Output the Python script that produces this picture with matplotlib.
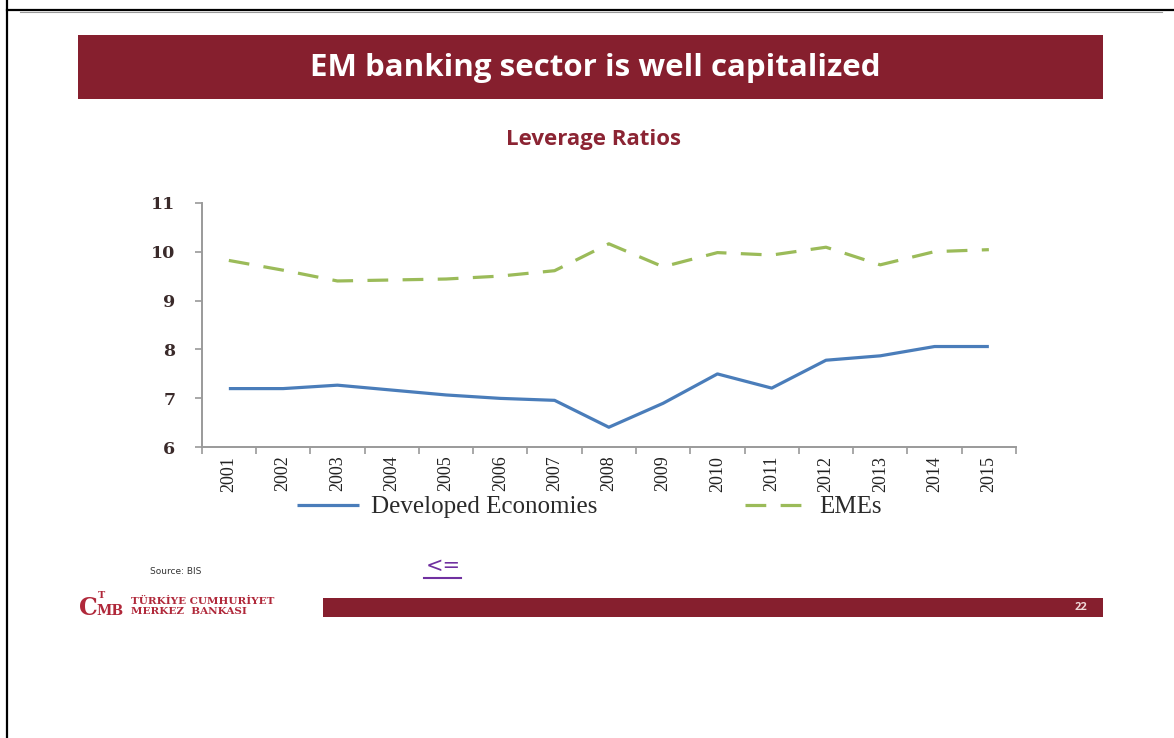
import matplotlib
matplotlib.use("Agg")
import matplotlib.pyplot as plt
from matplotlib.patches import Rectangle
from matplotlib.lines import Line2D

# ---------------- data ----------------
years = ["2001", "2002", "2003", "2004", "2005", "2006", "2007", "2008",
         "2009", "2010", "2011", "2012", "2013", "2014", "2015"]
developed = [7.20, 7.20, 7.27, 7.17, 7.07, 7.00, 6.96, 6.41,
             6.90, 7.50, 7.21, 7.78, 7.87, 8.06, 8.06]
emes = [9.82, 9.62, 9.40, 9.42, 9.44, 9.50, 9.61, 10.16,
        9.69, 9.98, 9.93, 10.09, 9.73, 10.00, 10.04]
yticks = [6, 7, 8, 9, 10, 11]

title = "EM banking sector is well capitalized"
subtitle = "Leverage Ratios"
series_names = ["Developed Economies", "EMEs"]

W, H = 1174, 738
fig = plt.figure(figsize=(W / 100, H / 100), dpi=100)
fig.patch.set_facecolor("white")

def fx(x):
    return x / W

def fy(y):
    return 1 - y / H

RED = "#861F2E"
BLUE = "#4A7DBA"
GREEN = "#9BBB59"
LOGO = "#B0283A"

# page border lines
fig.add_artist(Line2D([fx(7), fx(7)], [0, 1], color="black", lw=1.6,
                      transform=fig.transFigure))
fig.add_artist(Line2D([fx(7), 1], [fy(10), fy(10)], color="black", lw=1.6,
                      transform=fig.transFigure))
fig.add_artist(Line2D([fx(20), fx(1162)], [fy(12), fy(12)], color="#9a9a9a", lw=0.8,
                      transform=fig.transFigure))

# title bar
fig.add_artist(Rectangle((fx(78), fy(99)), fx(1103) - fx(78), fy(35) - fy(99),
                         transform=fig.transFigure, color=RED, lw=0))
fig.text(fx(595), fy(68), title, color="white", fontsize=22.5, fontweight="bold",
         family="Open Sans", ha="center", va="center")
fig.text(fx(594), fy(139), subtitle, color="#8B2433", fontsize=16, fontweight="bold",
         family="Open Sans", ha="center", va="center")

# axes
left, right, top, bottom = 201.7, 1016, 202.7, 447.3
ax = fig.add_axes([fx(left), fy(bottom), fx(right) - fx(left), fy(top) - fy(bottom)])
x = list(range(len(years)))
l1, = ax.plot(x, developed, color=BLUE, lw=2.3, solid_capstyle="butt")
l2, = ax.plot(x, emes, color=GREEN, lw=2.3, dashes=(6.5, 4.5), dash_capstyle="butt")
ax.set_xlim(-0.5, len(years) - 0.5)
ax.set_ylim(6, 11)
ax.set_yticks(yticks)
ax.set_yticklabels([str(v) for v in yticks], family="DejaVu Serif",
                   fontweight="bold", fontsize=12.5, color="#3a2a2a")
ax.set_xticks(x)
ax.set_xticklabels(years, rotation=90, family="Liberation Serif", fontsize=13,
                   color="#222222")
ax.set_xticks([i - 0.5 for i in range(len(years) + 1)], minor=True)
ax.tick_params(axis="x", which="major", length=0, pad=6)
ax.tick_params(axis="x", which="minor", length=5, width=1.2, color="#9a9a9a", direction="out")
ax.tick_params(axis="y", length=5, width=1.2, color="#9a9a9a", direction="out", pad=14)
for s in ["top", "right"]:
    ax.spines[s].set_visible(False)
for s in ["left", "bottom"]:
    ax.spines[s].set_color("#9a9a9a")
    ax.spines[s].set_linewidth(1.4)
ax.set_facecolor("white")

# legends
leg_font = {"family": "Liberation Serif", "size": 18}
leg1 = ax.legend([l1], [series_names[0]], loc="center left",
                 bbox_to_anchor=(fx(297), fy(507)), bbox_transform=fig.transFigure,
                 frameon=False, prop=leg_font, handlelength=2.5, handletextpad=0.45,
                 borderpad=0, borderaxespad=0)
for t in leg1.get_texts():
    t.set_color("#2a2a2a")
ax.add_artist(leg1)
leg2 = ax.legend([l2], [series_names[1]], loc="center left",
                 bbox_to_anchor=(fx(745), fy(507)), bbox_transform=fig.transFigure,
                 frameon=False, prop=leg_font, handlelength=2.4, handletextpad=0.55,
                 borderpad=0, borderaxespad=0)
for t in leg2.get_texts():
    t.set_color("#2a2a2a")

# footer
fig.text(fx(150), fy(572), "Source: BIS", fontsize=6.5, color="#333333",
         family="DejaVu Sans", ha="left", va="center")
fig.text(fx(443), fy(566), "<=", fontsize=15, color="#7030A0", family="DejaVu Sans",
         ha="center", va="center")
fig.add_artist(Line2D([fx(424), fx(461)], [fy(578), fy(578)], color="#7030A0", lw=1.5,
                      transform=fig.transFigure))
fig.add_artist(Rectangle((fx(323), fy(617)), fx(1103) - fx(323), fy(598) - fy(617),
                         transform=fig.transFigure, color=RED, lw=0))
fig.text(fx(1081), fy(608), "22", color="#f0d8d8", fontsize=8, fontweight="bold",
         family="Open Sans", ha="center", va="center")
fig.text(fx(131), fy(601), "TÜRKİYE CUMHURİYET", color=LOGO, fontsize=7.5,
         fontweight="bold", family="DejaVu Serif", ha="left", va="center")
fig.text(fx(131), fy(612), "MERKEZ  BANKASI", color=LOGO, fontsize=7.5,
         fontweight="bold", family="DejaVu Serif", ha="left", va="center")
fig.text(fx(88), fy(608), "C", color=LOGO, fontsize=17, fontweight="bold",
         family="DejaVu Serif", ha="center", va="center")
fig.text(fx(110), fy(611), "MB", color=LOGO, fontsize=10, fontweight="bold",
         family="DejaVu Serif", ha="center", va="center")
fig.text(fx(101), fy(596), "T", color=LOGO, fontsize=7, fontweight="bold",
         family="DejaVu Serif", ha="center", va="center")

fig.savefig("out.png", dpi=100, facecolor="white")
